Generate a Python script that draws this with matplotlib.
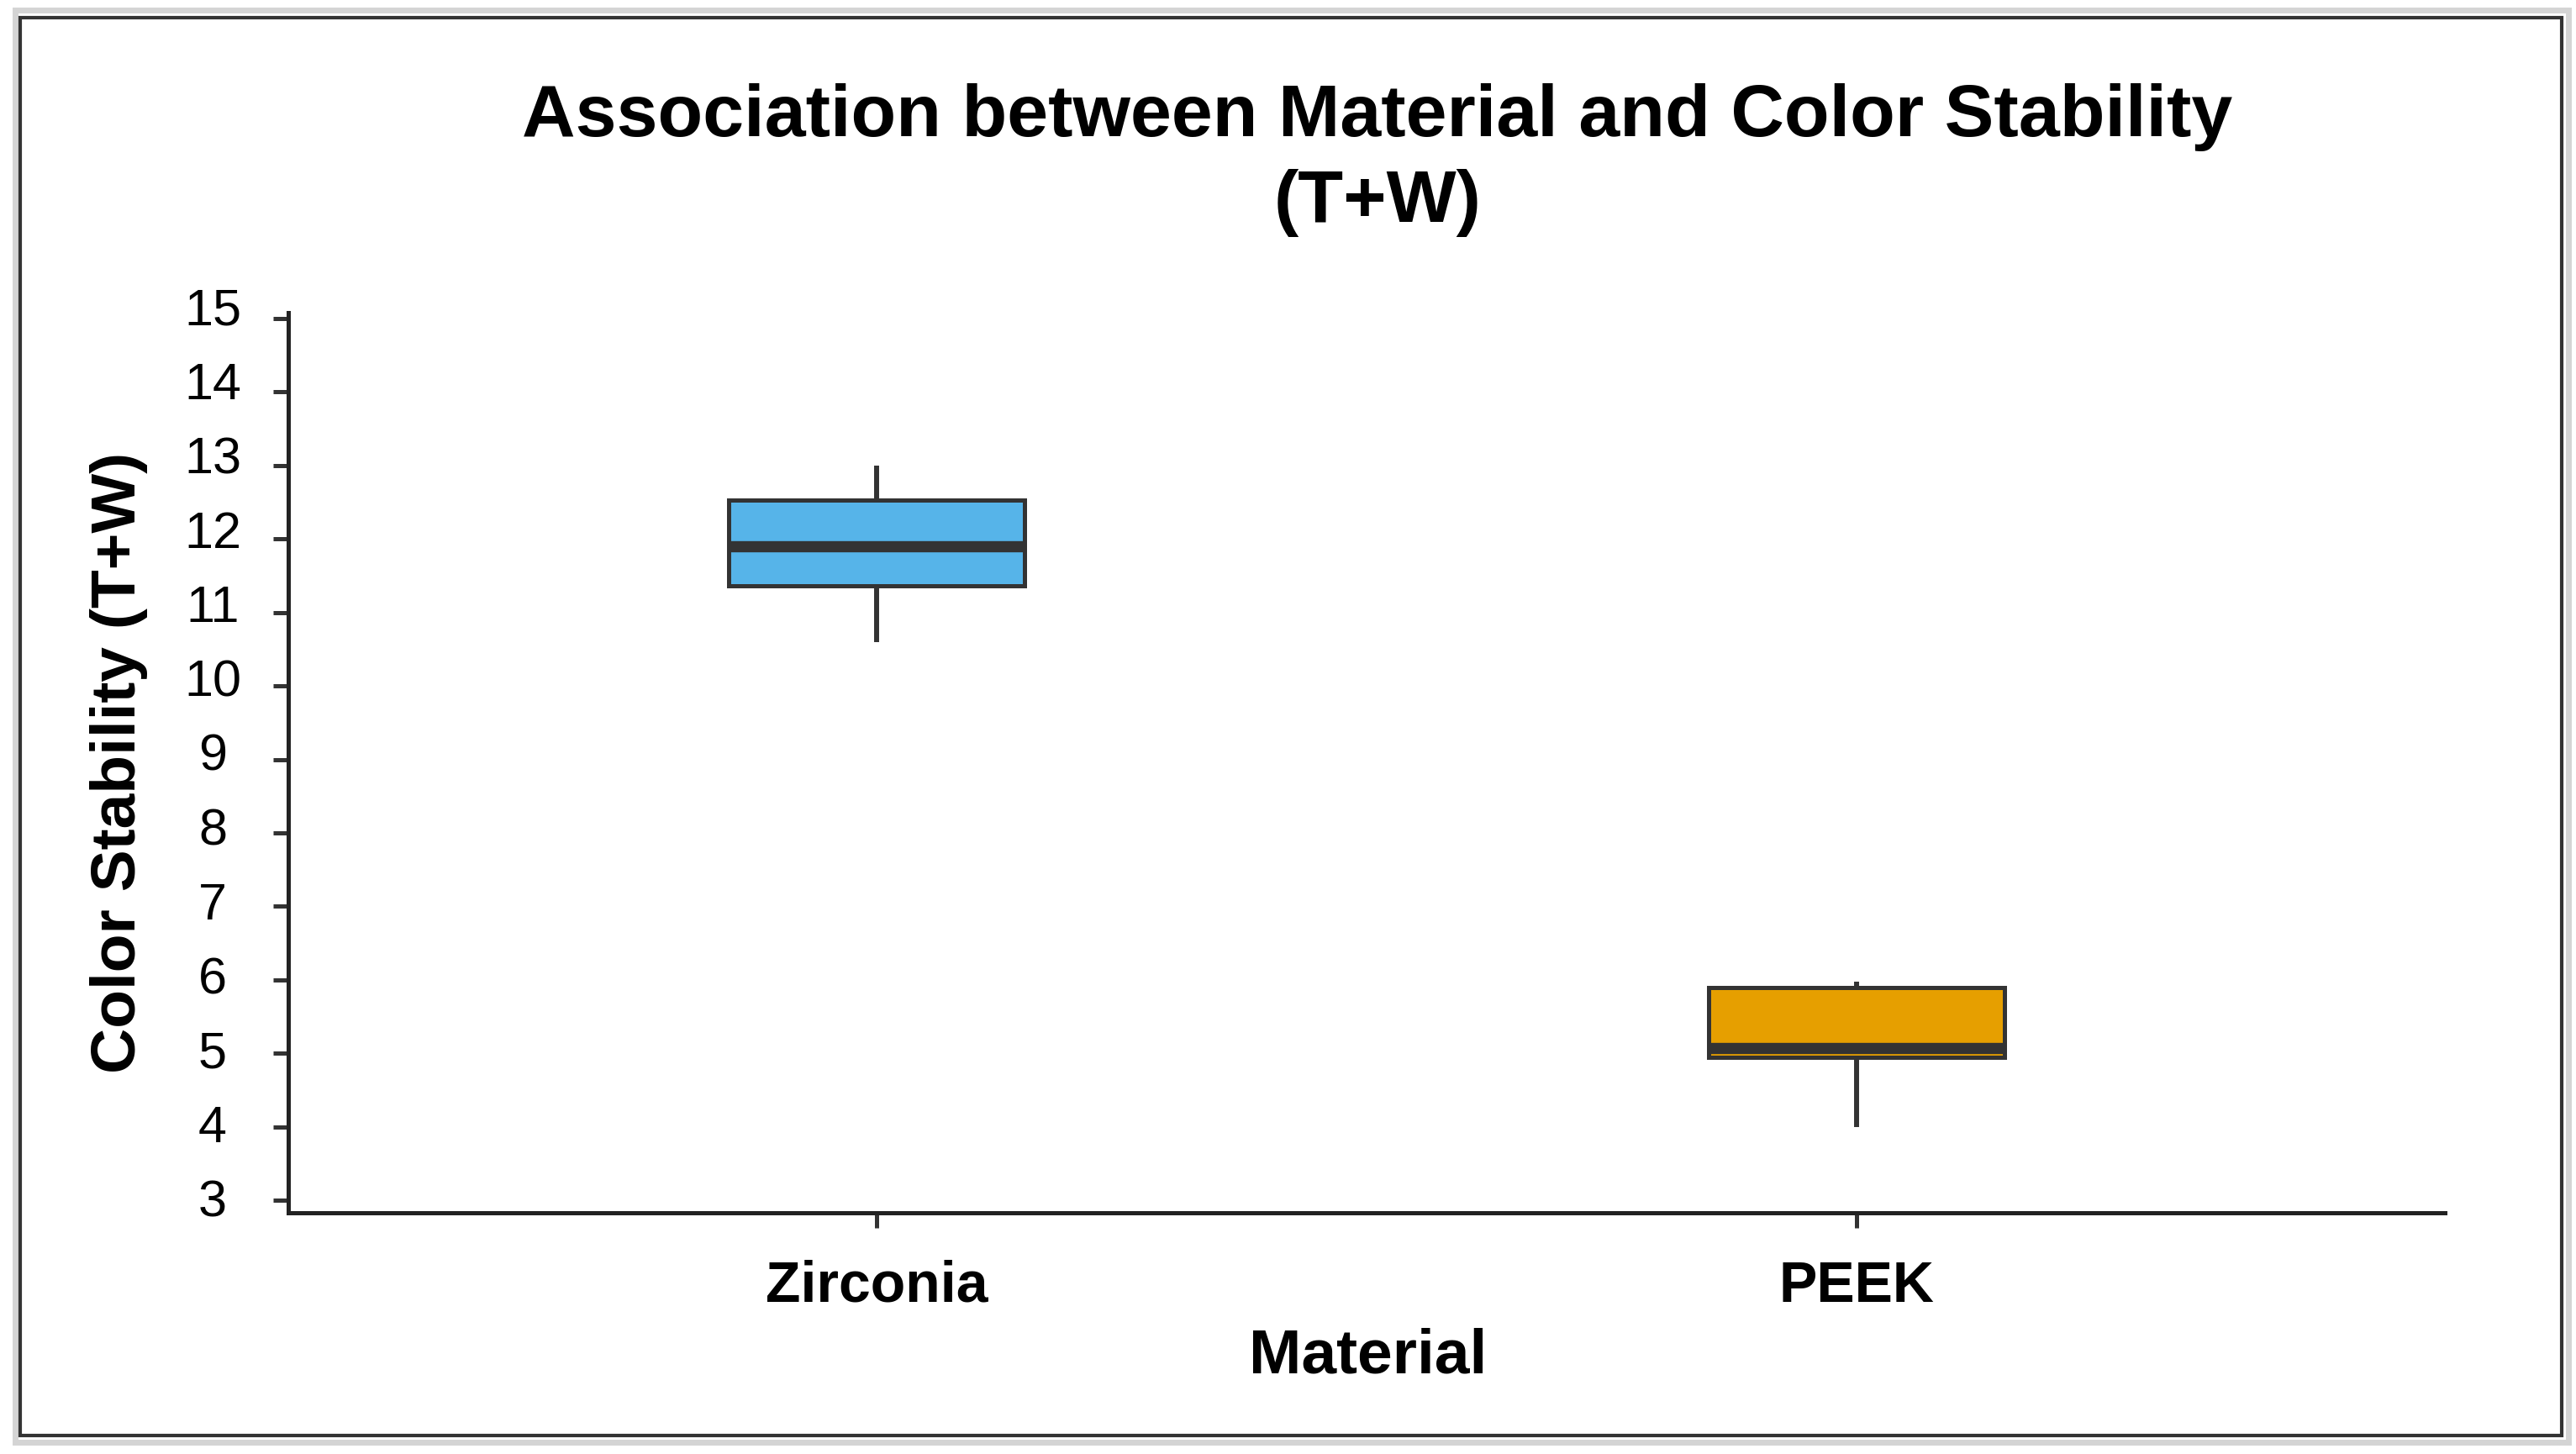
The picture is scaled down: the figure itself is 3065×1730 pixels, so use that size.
import matplotlib
matplotlib.use('Agg')
import matplotlib.pyplot as plt
from matplotlib.patches import Rectangle
from matplotlib.transforms import blended_transform_factory, ScaledTranslation

plt.rcParams['font.family'] = ['Liberation Sans', 'DejaVu Sans']

# ---- data ----
materials = ['Zirconia', 'PEEK']
whisker_low = [10.6, 4.0]
q1 = [11.36, 4.95]
median = [11.9, 5.07]
q3 = [12.53, 5.89]
whisker_high = [13.0, 5.98]
box_colors = ['#56B4E9', '#E69F00']
yticks = list(range(3, 16))

title_line1 = 'Association between Material and Color Stability'
title_line2 = '(T+W)'
xlabel = 'Material'
ylabel = 'Color Stability (T+W)'

W, H = 3065, 1730
fig = plt.figure(figsize=(W / 100, H / 100), dpi=100)

# axes placement (pixels -> figure fraction)
left_px, right_px, top_px, bottom_px = 343, 2909, 372, 1443
ax = fig.add_axes([left_px / W, 1 - bottom_px / H,
                   (right_px - left_px) / W, (bottom_px - top_px) / H])

stats = []
for m, wl, a, md, b, wh in zip(materials, whisker_low, q1, median, q3, whisker_high):
    stats.append(dict(label=m, whislo=wl, q1=a, med=md, q3=b, whishi=wh, fliers=[]))

edge = '#333333'
bp = ax.bxp(stats, positions=[0, 1], widths=0.302, patch_artist=True,
            showcaps=False, showfliers=False,
            boxprops=dict(edgecolor=edge, linewidth=3.6),
            medianprops=dict(color=edge, linewidth=9.6, solid_capstyle='butt'),
            whiskerprops=dict(color=edge, linewidth=4.3, solid_capstyle='butt'))
for patch, c in zip(bp['boxes'], box_colors):
    patch.set_facecolor(c)

ax.set_xlim(-0.6, 1.6)
ax.set_ylim(2.83, 15.08)
ax.set_yticks(yticks)
ax.set_xticks([0, 1])
ax.set_xticklabels(materials, fontsize=49, fontweight='bold')

for s in ['top', 'right']:
    ax.spines[s].set_visible(False)
for s in ['left', 'bottom']:
    ax.spines[s].set_linewidth(3.6)
    ax.spines[s].set_color('#222222')

ax.tick_params(axis='both', direction='out', length=13, width=3.6, color='#333333')
ax.tick_params(axis='y', labelleft=False)
ax.tick_params(axis='x', pad=27)

# y tick labels: centred column, drawn at the data positions of the ticks
ytrans = blended_transform_factory(ax.transAxes, ax.transData)
x_lab = (253 - left_px) / (right_px - left_px)
for v in yticks:
    up_px = 3 + (v - 3) * 0.95
    ax.text(x_lab, v, str(v), fontsize=44, ha='center', va='center_baseline',
            transform=ytrans + ScaledTranslation(0, up_px / 100, fig.dpi_scale_trans),
            clip_on=False)

ax.set_xlabel(xlabel, fontsize=54, fontweight='bold')
ax.xaxis.set_label_coords((1628 - left_px) / (right_px - left_px),
                          (bottom_px - 1580) / (bottom_px - top_px))
ax.set_ylabel(ylabel, fontsize=54, fontweight='bold')
ax.yaxis.set_label_coords((176 - left_px) / (right_px - left_px), 0.5)

# title (two lines)
fig.text(1639 / W, 1 - 162 / H, title_line1, ha='center', va='baseline',
         fontsize=63.4, fontweight='bold')
fig.text(1639 / W, 1 - 264 / H, title_line2, ha='center', va='baseline',
         fontsize=63.4, fontweight='bold')

# outer frame
fig.patches.append(Rectangle((18 / W, 1 - 1716 / H), (3056 - 18) / W, (1716 - 12) / H,
                             transform=fig.transFigure, fill=False,
                             edgecolor='#d4d4d4', linewidth=5))
fig.patches.append(Rectangle((24 / W, 1 - 1708 / H), (3048 - 24) / W, (1708 - 21) / H,
                             transform=fig.transFigure, fill=False,
                             edgecolor='#333333', linewidth=3))

fig.savefig('out.png', dpi=100)
